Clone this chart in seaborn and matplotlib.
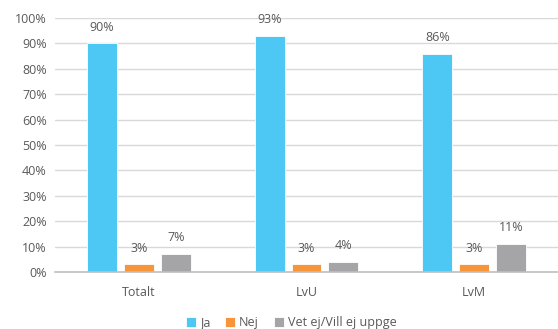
import matplotlib
matplotlib.use("Agg")
import matplotlib.pyplot as plt
import seaborn as sns
import pandas as pd
from matplotlib.ticker import PercentFormatter

groups = ["Totalt", "LvU", "LvM"]
answers = ["Ja", "Nej", "Vet ej/Vill ej uppge"]
ja = [90, 93, 86]
nej = [3, 3, 3]
vet = [7, 4, 11]
colors = ["#4DC8F4", "#F7953A", "#A5A5A7"]

rows = []
for ans, vals in zip(answers, [ja, nej, vet]):
    for g, v in zip(groups, vals):
        rows.append({"grupp": g, "svar": ans, "andel": v})
df = pd.DataFrame(rows)

sns.set_theme(style="white")
plt.rcParams["font.family"] = ["Open Sans", "DejaVu Sans"]
text_color = "#595959"
fs = 9

fig = plt.figure(figsize=(5.58, 3.29), dpi=100)
ax = fig.add_axes([55 / 558, (329 - 272) / 329, (558 - 55) / 558, (272 - 18) / 329])

sns.barplot(data=df, x="grupp", y="andel", hue="svar", hue_order=answers,
            order=groups, palette=colors, saturation=1, width=0.66, gap=0.19,
            edgecolor="white", linewidth=0.6, ax=ax, legend=True)

for cont in ax.containers:
    ax.bar_label(cont, labels=[f"{v:.0f}%" for v in cont.datavalues],
                 padding=7, fontsize=fs, color=text_color)

ax.set_ylim(0, 100)
ax.set_xlim(-0.5, 2.5)
ax.set_yticks(range(0, 101, 10))
ax.yaxis.set_major_formatter(PercentFormatter(decimals=0))
ax.grid(axis="y", color="#D9D9D9", linewidth=1)
ax.set_axisbelow(True)
for s in ["top", "right", "left"]:
    ax.spines[s].set_visible(False)
ax.spines["bottom"].set_color("#BFBFBF")
ax.spines["bottom"].set_linewidth(1.2)
ax.set_xlabel("")
ax.set_ylabel("")
ax.tick_params(axis="both", length=0, labelsize=fs, colors=text_color, pad=6)
ax.tick_params(axis="x", pad=10)

leg = ax.legend(loc="lower center", bbox_to_anchor=(0.47, -0.27), ncol=3,
                frameon=False, fontsize=fs, handlelength=0.8, handleheight=0.8,
                handletextpad=0.3, columnspacing=1.2)
for t in leg.get_texts():
    t.set_color(text_color)

fig.savefig("out.png", dpi=100)
